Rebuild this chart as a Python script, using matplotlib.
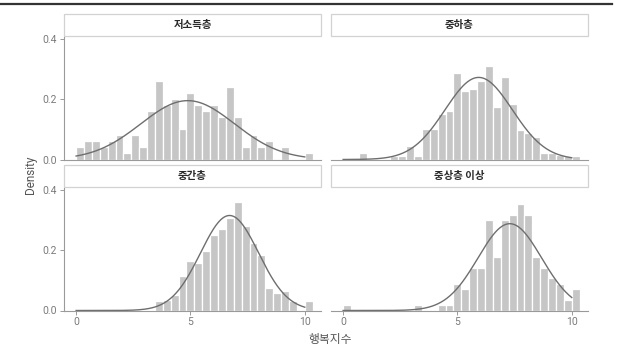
import numpy as np
import matplotlib
matplotlib.use("Agg")
import matplotlib.pyplot as plt
from matplotlib.patches import Rectangle
from matplotlib.lines import Line2D

plt.rcParams['font.family'] = ['Roboto', 'Noto Sans CJK KR', 'DejaVu Sans']

# =================== Data ===================
groups = ['저소득층', '중하층', '중간층', '중상층 이상']

bin_start = 0.0
bin_width = 10 / 29

low_income = [0.04, 0.06, 0.06, 0.04, 0.06, 0.08, 0.02, 0.08, 0.04, 0.16,
              0.26, 0.18, 0.20, 0.10, 0.22, 0.18, 0.16, 0.18, 0.14, 0.24,
              0.14, 0.04, 0.08, 0.04, 0.06, 0.0, 0.04, 0.0, 0.0, 0.02]
lower_mid = [0.0, 0.0, 0.02, 0.0, 0.0, 0.0, 0.01, 0.01, 0.045, 0.01,
             0.10, 0.10, 0.15, 0.16, 0.285, 0.225, 0.234, 0.259, 0.309, 0.173,
             0.273, 0.185, 0.098, 0.086, 0.073, 0.023, 0.023, 0.014, 0.011, 0.011]
middle = [0.0, 0.0, 0.0, 0.0, 0.0, 0.0, 0.0, 0.0, 0.0, 0.0,
          0.03, 0.035, 0.05, 0.114, 0.165, 0.158, 0.198, 0.248, 0.268, 0.305,
          0.358, 0.281, 0.223, 0.184, 0.076, 0.057, 0.064, 0.031, 0.0, 0.031]
upper_mid = [0.0177, 0.0, 0.0, 0.0, 0.0, 0.0, 0.0, 0.0, 0.0, 0.0177,
             0.0, 0.0, 0.0177, 0.0177, 0.088, 0.070, 0.141, 0.141, 0.299, 0.176,
             0.299, 0.317, 0.352, 0.317, 0.176, 0.141, 0.106, 0.088, 0.035, 0.070]

densities = [low_income, lower_mid, middle, upper_mid]

# fitted normal curve parameters (mean, sd) per group
means = [4.88, 5.93, 6.71, 7.29]
sds = [2.05, 1.47, 1.27, 1.39]

x_ticks = [0, 5, 10]
y_ticks = [0.0, 0.2, 0.4]

# =================== Plot ===================
bar_color = '#c6c6c6'
curve_color = '#6e6e6e'
axis_color = '#9a9a9a'
label_color = '#7a7a7a'

fig = plt.figure(figsize=(6.18, 3.5), dpi=100)

W, H = 618, 350
lefts = [64, 331]
tops = [37, 188]
pw, ph = 257, 122.5

fig.add_artist(Line2D([0, 612 / W], [1 - 4 / H, 1 - 4 / H], color='#333333', lw=1.6))

xs = np.linspace(0, 10, 300)

for i, (name, dens) in enumerate(zip(groups, densities)):
    row, col = divmod(i, 2)
    ax = fig.add_axes([lefts[col] / W, 1 - (tops[row] + ph) / H, pw / W, ph / H])
    centers = bin_start + bin_width * (np.arange(len(dens)) + 0.5)
    ax.bar(centers, dens, width=bin_width, color=bar_color, edgecolor='white', linewidth=0.9)
    pdf = np.exp(-0.5 * ((xs - means[i]) / sds[i]) ** 2) / (sds[i] * np.sqrt(2 * np.pi))
    ax.plot(xs, pdf, color=curve_color, lw=1.0)

    ax.set_xlim(-0.53, 10.71)
    ax.set_ylim(0, 0.405)
    ax.set_facecolor('none')
    for s in ['top', 'right']:
        ax.spines[s].set_visible(False)
    ax.spines['bottom'].set_color(axis_color)
    ax.spines['left'].set_color(axis_color)
    ax.spines['bottom'].set_linewidth(0.8)
    ax.spines['left'].set_linewidth(0.8)
    ax.tick_params(colors=axis_color, labelcolor=label_color, labelsize=7.5, length=3, width=0.7, pad=2)

    ax.set_xticks(x_ticks)
    ax.set_yticks(y_ticks)
    if row == 0:
        ax.tick_params(axis='x', length=0, labelbottom=False)
    if col == 1:
        ax.spines['left'].set_visible(False)
        ax.tick_params(axis='y', length=0, labelleft=False)
    else:
        ax.set_yticklabels(['0.0', '0.2', '0.4'])

    # strip
    sh = 22 / ph
    ax.add_patch(Rectangle((0, 1 + 1 / ph), 1, sh, transform=ax.transAxes, clip_on=False,
                           facecolor='white', edgecolor='#d2d2d2', lw=0.9))
    ax.text(0.5, 1 + 1 / ph + sh / 2, name, transform=ax.transAxes, ha='center', va='center',
            fontsize=7.5, fontweight='bold', color='#2a2a2a', family=['Noto Sans CJK KR', 'DejaVu Sans'])

fig.text(30 / W, 1 - 175 / H, 'Density', rotation=90, ha='center', va='center', fontsize=8.5, color='#555555')
fig.text(330 / W, 1 - 339 / H, '행복지수', ha='center', va='center', fontsize=8.5, color='#555555',
         family=['Noto Sans CJK KR', 'DejaVu Sans'])

fig.savefig('out.png', dpi=100)
